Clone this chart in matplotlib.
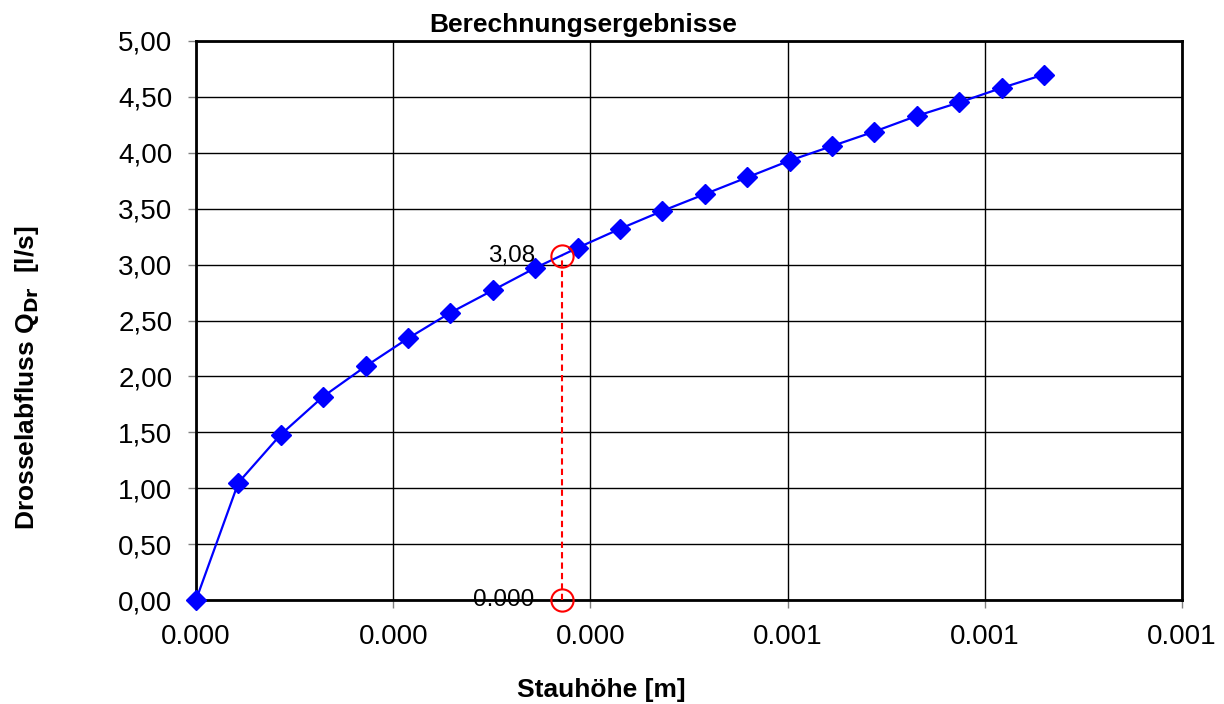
import matplotlib.pyplot as plt
from matplotlib.ticker import FuncFormatter

plt.rcParams['font.family'] = ['Liberation Sans', 'DejaVu Sans']

# water level [m] and throttle discharge [l/s]
stauhoehe = [0.0, 0.000043, 0.000086, 0.000129, 0.000172, 0.000215, 0.000258,
             0.000301, 0.000344, 0.000387, 0.000430, 0.000473, 0.000516,
             0.000559, 0.000602, 0.000645, 0.000688, 0.000731, 0.000774,
             0.000817, 0.000860]
abfluss = [0.00, 1.05, 1.48, 1.82, 2.09, 2.34, 2.57, 2.77, 2.97, 3.15, 3.32,
           3.48, 3.63, 3.78, 3.93, 4.06, 4.19, 4.33, 4.45, 4.58, 4.70]

# operating point
punkt_x = 0.000371
punkt_q = 3.08

x_ticks = [0.0, 0.0002, 0.0004, 0.0006, 0.0008, 0.0010]
y_ticks = [0.0, 0.5, 1.0, 1.5, 2.0, 2.5, 3.0, 3.5, 4.0, 4.5, 5.0]

fig = plt.figure(figsize=(12.24, 7.04), dpi=100)
ax = fig.add_axes([196 / 1224, 104 / 704, 986 / 1224, 559 / 704])

ax.plot(stauhoehe, abfluss, color='#0000ff', linewidth=1.6, marker='D',
        markersize=10, zorder=3, clip_on=False)

# dashed drop line with circles
ax.plot([punkt_x, punkt_x], [0, punkt_q], color='red', linestyle=(0, (3, 2)),
        linewidth=1.5, zorder=4, clip_on=False)
ax.plot([punkt_x, punkt_x], [0, punkt_q], linestyle='', marker='o',
        markersize=16, markerfacecolor='none', markeredgecolor='red',
        markeredgewidth=1.5, zorder=5, clip_on=False)
ax.annotate(f'{punkt_q:.2f}'.replace('.', ','), (punkt_x, punkt_q),
            xytext=(-19.5, 0), textcoords='offset points', ha='right',
            va='center', fontsize=17.5, zorder=6)
ax.annotate(f'{punkt_x:.3f}', (punkt_x, 0),
            xytext=(-20, 0), textcoords='offset points', ha='right',
            va='center', fontsize=17.5, zorder=6)

ax.set_xlim(0, 0.001)
ax.set_ylim(0, 5)
ax.set_xticks(x_ticks)
ax.set_yticks(y_ticks)
ax.xaxis.set_major_formatter(FuncFormatter(lambda v, p: f'{v:.3f}'))
ax.yaxis.set_major_formatter(FuncFormatter(lambda v, p: f'{v:.2f}'.replace('.', ',')))
ax.tick_params(labelsize=20, direction='out', length=6, width=1, color='#808080', pad=11)
ax.grid(True, color='black', linewidth=1)
ax.set_axisbelow(True)
for s in ax.spines.values():
    s.set_linewidth(2)

fig.text(583.5 / 1224, 1 - 25 / 704, 'Berechnungsergebnisse', ha='center',
         va='center', fontsize=19, fontweight='bold')
fig.text(601 / 1224, 1 - 690 / 704, 'Stauhöhe [m]', ha='center', va='center',
         fontsize=19, fontweight='bold')
fig.text(27 / 1224, 1 - 378 / 704, r'Drosselabfluss Q$_{\mathbf{Dr}}$  [l/s]',
         rotation=90, ha='center', va='center', fontsize=19, fontweight='bold')

fig.savefig('out.png', dpi=100)
